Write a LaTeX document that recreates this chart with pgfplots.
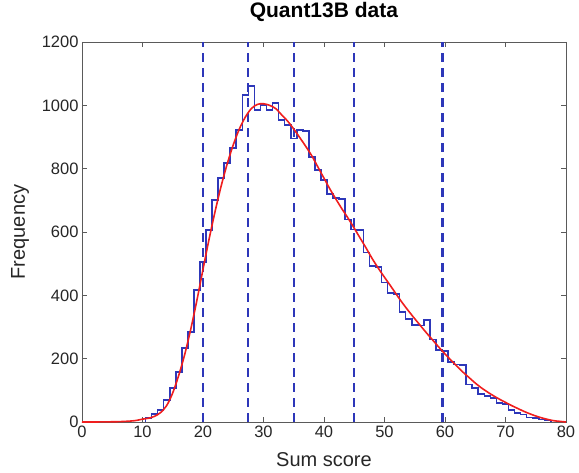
\documentclass[border=0pt]{standalone}
\usepackage{pgfplots}
\pgfplotsset{compat=1.18}
\usepackage{fontspec}
\setmainfont{Liberation Sans}
\definecolor{hblue}{RGB}{45,55,185}
\definecolor{cred}{RGB}{240,30,30}
\definecolor{axgray}{RGB}{90,90,90}
\begin{document}
\begin{tikzpicture}
\useasboundingbox (-82bp,-51bp) rectangle (497bp,422bp);
\begin{axis}[
  at={(0,0)}, anchor=south west,
  scale only axis, width=484bp, height=380bp,
  xmin=0, xmax=80, ymin=0, ymax=1200,
  xtick={0,10,...,80}, ytick={0,200,...,1200},
  xtick pos=both, ytick pos=both,
  tick align=inside, major tick length=5bp,
  axis line style={axgray, line width=0.8bp},
  every tick/.style={axgray, line width=0.8bp},
  /pgf/number format/assume math mode=true,
  /pgf/number format/1000 sep={},
  ticklabel style={font=\fontsize{16.5bp}{18bp}\selectfont, text=black!85},
  title={\textbf{Quant13B data}},
  title style={at={(axis description cs:0.5,1.063)}, anchor=center, font=\fontsize{21bp}{24bp}\selectfont},
  xlabel={Sum score}, ylabel={Frequency},
  xlabel style={at={(axis description cs:0.5,-0.1)}, anchor=center, font=\fontsize{20bp}{22bp}\selectfont, text=black!85},
  ylabel style={at={(axis description cs:-0.128,0.5)}, anchor=center, font=\fontsize{20bp}{22bp}\selectfont, text=black!85},
  clip=false,
]
% histogram (bins centred on integers; x = left edge)
\addplot[const plot, hblue, line width=1.6bp, line join=miter] table {
x y
10.5 0
10.5 13
11.5 25
12.5 38
13.5 70
14.5 107
15.5 158
16.5 234
17.5 284
18.5 417
19.5 505
20.5 606
21.5 701
22.5 770
23.5 818
24.5 865
25.5 922
26.5 1032
27.5 1061
28.5 985
29.5 1001
30.5 985
31.5 1007
32.5 954
33.5 938
34.5 895
35.5 922
36.5 918
37.5 836
38.5 795
39.5 764
40.5 720
41.5 707
42.5 705
43.5 640
44.5 608
45.5 606
46.5 535
47.5 492
48.5 490
49.5 440
50.5 408
51.5 405
52.5 347
53.5 325
54.5 306
55.5 305
56.5 322
57.5 260
58.5 228
59.5 225
60.5 190
61.5 182
62.5 180
63.5 118
64.5 107
65.5 88
66.5 83
67.5 76
68.5 60
69.5 56
70.5 38
71.5 28
72.5 24
73.5 14
74.5 12
75.5 8
76.5 5
77.5 0
};
% dashed cut lines
\addplot[hblue, line width=2.2bp, dash pattern=on 9bp off 6bp] coordinates {(20,0) (20,1200)};
\addplot[hblue, line width=2.2bp, dash pattern=on 9bp off 6bp] coordinates {(27.5,0) (27.5,1200)};
\addplot[hblue, line width=2.2bp, dash pattern=on 9bp off 6bp] coordinates {(35,0) (35,1200)};
\addplot[hblue, line width=2.2bp, dash pattern=on 9bp off 6bp] coordinates {(45,0) (45,1200)};
\addplot[hblue, line width=2.2bp, dash pattern=on 9bp off 6bp] coordinates {(59.6,0) (59.6,1200)};
% fitted curve
\addplot[cred, line width=1.6bp, smooth] table {
x y
0 0
2 0
4 0.5
6 1
8 3
9 5
10 9
11 12
12 18
13 30
14 52
15 92
16 148
17 215
18 295
19 385
20 482
21 577
22 665
23 745
24 815
25 875
26 925
27 963
28 990
29 1003
30 1005
31 1000
32 990
33 970
34 950
35 925
36 898
37 870
38 840
39 805
40 770
41 735
42 703
43 672
44 643
45 612
46 580
47 548
48 515
49 485
50 457
51 430
52 402
53 375
54 350
55 326
56 303
57 280
58 258
59 236
60 215
61 195
62 176
63 157
64 140
65 123
66 108
67 95
68 83
69 72
70 62
71 52
72 43
73 34
74 26
75 19
76 13
77 8
78 4
79 2
80 0
};
\end{axis}
\end{tikzpicture}
\end{document}
